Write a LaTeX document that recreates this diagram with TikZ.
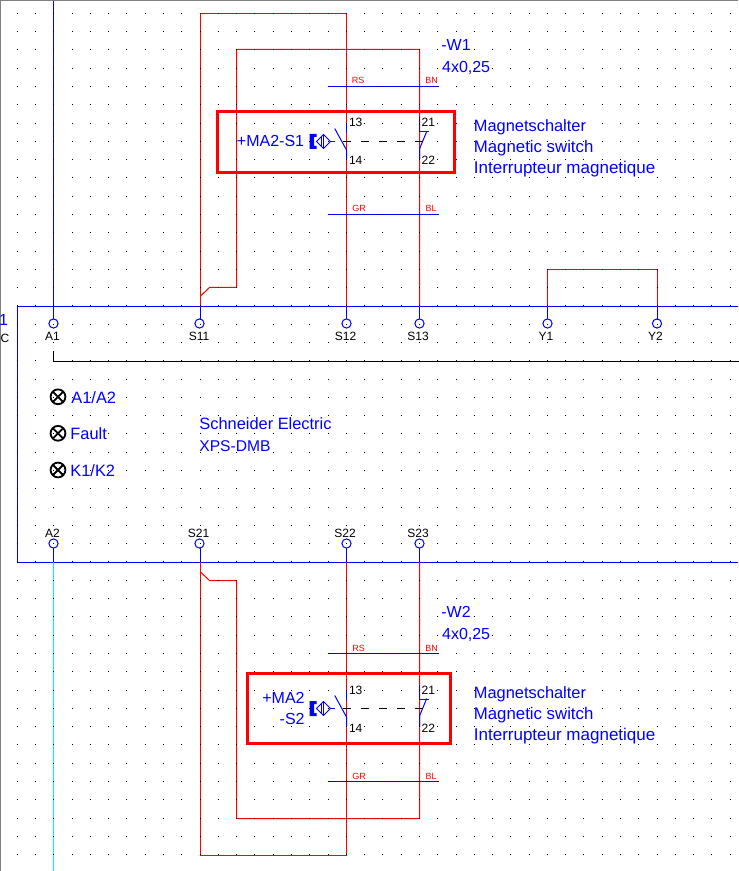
\documentclass[tikz,border=0pt]{standalone}
\usepackage{fontspec}
\setmainfont{Liberation Sans}
\definecolor{wblue}{RGB}{0,0,255}
\definecolor{wred}{RGB}{255,0,0}
\definecolor{wcyan}{RGB}{0,240,255}
\definecolor{wgray}{RGB}{128,128,128}
\tikzset{
  wire/.style={line width=0.5pt,line cap=rect},
  redwire/.style={wire,draw=wred},
  bluewire/.style={wire,draw=wblue},
  blackwire/.style={wire,draw=black},
  term/.style={circle,draw=wblue,line width=0.5pt,fill=white,minimum size=4.6pt,inner sep=0pt,outer sep=0pt},
  termlabel/.style={text=black,font=\fontsize{6}{6}\selectfont,inner sep=0pt,anchor=base},
  corelabel/.style={text=wred,font=\fontsize{4.5}{4.5}\selectfont,inner sep=0pt,anchor=base},
  pinlabel/.style={text=black,font=\fontsize{6}{6}\selectfont,inner sep=0pt,anchor=base},
  bluetext/.style={text=wblue,font=\fontsize{8}{8}\selectfont,inner sep=0pt,anchor=base west},
  bluetextr/.style={text=wblue,font=\fontsize{8}{8}\selectfont,inner sep=0pt,anchor=base east},
  highlight/.style={draw=wred,line width=1.5pt,inner sep=0pt,outer sep=0pt,anchor=north west},
  lampmark/.style={draw=black,line width=0.9pt,circle,minimum size=7.4pt,inner sep=0pt,outer sep=0pt},
}
\newcommand{\magsymbol}{%
  % left contact
  \draw[bluewire] (346.5,124)--(346.5,133);
  \draw[bluewire] (335,129)--(346.5,150)--(346.5,159);
  % right contact
  \draw[bluewire] (419.5,118)--(419.5,132)--(428.5,132);
  \draw[bluewire] (426.5,132)--(419.5,149)--(419.5,159);
  % coupling
  \draw[black,line width=0.5pt,dash pattern=on 4pt off 5pt] (343,141.5)--(423,141.5);
  % actuator
  \fill[wblue] (309.5,134)--(316.5,134)--(316.5,137)--(314,137)--(314,146)--(316.5,146)--(316.5,149)--(309.5,149)--cycle;
  \draw[bluewire] (316.5,141.5)--(323.5,134.5)--(330.5,141.5)--(323.5,148.5)--cycle;
  \draw[bluewire] (323.5,134.5)--(323.5,148.5);
  \draw[bluewire] (321.5,137)--(321.5,146);
  \draw[bluewire] (330.5,141.5)--(334.5,141.5);
}
\begin{document}
\begin{tikzpicture}[x=0.5pt,y=-0.5pt]
\useasboundingbox (0,0) rectangle (738,871);
\fill[white] (0,0) rectangle (738,871);
% terminals
\node[term] (A1) at (53.5,323.5) {};
\node[term] (S11) at (199.5,323.5) {};
\node[term] (S12) at (346.5,323.5) {};
\node[term] (S13) at (419.5,323.5) {};
\node[term] (Y1) at (547.5,323.5) {};
\node[term] (Y2) at (657,323.5) {};
\node[term] (A2) at (53.5,543.5) {};
\node[term] (S21) at (199.5,543.5) {};
\node[term] (S22) at (346.5,543.5) {};
\node[term] (S23) at (419.5,543.5) {};
% free ends and bends
\coordinate (topA) at (53.5,0);
\coordinate (botA) at (53.5,871);
\coordinate (S11b) at (200.5,306.5);
\coordinate (S12b) at (346.5,306.5);
\coordinate (S13b) at (419.5,306.5);
\coordinate (Y1b) at (547.5,306.5);
\coordinate (Y2b) at (657.5,306.5);
\coordinate (A2b) at (53.5,562.5);
\coordinate (S21b) at (200.5,562.5);
\coordinate (S22b) at (346.5,562.5);
\coordinate (S23b) at (419.5,562.5);
% enclosure
\draw[bluewire,line cap=butt] (738,306.5)--(17.5,306.5)--(17.5,562.5)--(738,562.5);
% blue stubs
\draw[bluewire] (topA)--(A1);
\draw[bluewire] (S11b)--(200.5,319);
\draw[bluewire] (S12b)--(S12);
\draw[bluewire] (S13b)--(S13);
\draw[bluewire] (Y1b)--(Y1);
\draw[bluewire] (Y2b)--(657.5,319);
\draw[bluewire] (A2)--(A2b);
\draw[bluewire] (200.5,548)--(S21b);
\draw[bluewire] (S22)--(S22b);
\draw[bluewire] (S23)--(S23b);
% red wires
\draw[redwire] (S11b)--(200.5,13.5)--(346.5,13.5)--(S12b);
\draw[redwire] (200.5,296)--(209.5,287.5)--(236.5,287.5)--(236.5,49.5)--(419.5,49.5)--(S13b);
\draw[redwire] (Y1b)--(547.5,269.5)--(657.5,269.5)--(Y2b);
\draw[redwire] (S21b)--(200.5,855.5)--(346.5,855.5)--(S22b);
\draw[redwire] (200.5,572)--(209.5,580.5)--(236.5,580.5)--(236.5,818.5)--(419.5,818.5)--(S23b);
\draw[wire,draw=wcyan] (A2b)--(botA);
% black line
\draw[blackwire] (53.5,351)--(53.5,361.5)--(738,361.5);
% core bars
\draw[bluewire] (328.5,86.5)--(438,86.5);
\draw[bluewire] (328.5,214.5)--(438,214.5);
\draw[bluewire] (328.5,653.5)--(438,653.5);
\draw[bluewire] (328.5,781.5)--(438,781.5);
% switch symbols
\magsymbol
\begin{scope}[shift={(0,567)}]\magsymbol\end{scope}
% dot grid
\foreach \i in {0,...,39}{\foreach \j in {0,...,46}{
  \pgfmathsetmacro{\px}{int(17.3+18.28*\i)}
  \pgfmathsetmacro{\py}{int(13.3+18.29*\j)}
  \fill[black] (\px,\py) rectangle ++(1,1);
}}
% highlight frames
\node[highlight,minimum width=118.35pt,minimum height=30.65pt] (frameA) at (217.4,111.7) {};
\node[highlight,minimum width=101.7pt,minimum height=34.8pt] (frameB) at (247.3,673.7) {};
% window edge
\fill[wgray] (0,0) rectangle (738,1);
\fill[wgray] (0,0) rectangle (1,871);
% terminal labels
\node[termlabel] (lA1) at (52.5,340) {A1};
\node[termlabel] (lS11) at (199,340) {S11};
\node[termlabel] (lS12) at (345.5,340) {S12};
\node[termlabel] (lS13) at (418,340) {S13};
\node[termlabel] (lY1) at (546,340) {Y1};
\node[termlabel] (lY2) at (655.5,340) {Y2};
\node[termlabel] (lA2) at (52.5,537) {A2};
\node[termlabel] (lS21) at (198.5,537) {S21};
\node[termlabel] (lS22) at (345,537) {S22};
\node[termlabel] (lS23) at (418,537) {S23};
% reference at the left edge
\node[text=wblue,font=\fontsize{8}{8}\selectfont,inner sep=0pt,anchor=base east] (ref1) at (8.5,325) {1};
\node[termlabel,anchor=base east] (refC) at (9.7,342) {C};
% core labels
\node[corelabel] (c1) at (358,84) {RS};
\node[corelabel] (c2) at (431.5,84) {BN};
\node[corelabel] (c3) at (359,212) {GR};
\node[corelabel] (c4) at (431,212) {BL};
\node[corelabel] (c5) at (358.5,651) {RS};
\node[corelabel] (c6) at (431.5,651) {BN};
\node[corelabel] (c7) at (359,779) {GR};
\node[corelabel] (c8) at (431,779) {BL};
% contact numbers
\node[pinlabel] (p13a) at (355.7,127) {13};
\node[pinlabel] (p14a) at (355.7,165) {14};
\node[pinlabel] (p21a) at (428.3,127) {21};
\node[pinlabel] (p22a) at (428.3,165) {22};
\node[pinlabel] (p13b) at (355.7,694) {13};
\node[pinlabel] (p14b) at (355.7,732) {14};
\node[pinlabel] (p21b) at (428.3,694) {21};
\node[pinlabel] (p22b) at (428.3,732) {22};
% blue text
\node[bluetext] (w1) at (441,50.5) {-W1};
\node[bluetext] (w1b) at (441.7,72.5) {4x0,25};
\node[bluetext] (w2) at (441,617) {-W2};
\node[bluetext] (w2b) at (441.7,639.5) {4x0,25};
\node[bluetextr] (ms1) at (304.5,147) {+MA2-S1};
\node[bluetextr] (ms2a) at (305,703.5) {+MA2};
\node[bluetextr] (ms2b) at (305,724.5) {-S2};
\node[bluetext,font=\fontsize{8.2}{8}\selectfont] (t1) at (473.5,131.5) {Magnetschalter};
\node[bluetext,font=\fontsize{8.4}{8}\selectfont] (t2) at (473.5,152.5) {Magnetic switch};
\node[bluetext,font=\fontsize{8.5}{8}\selectfont] (t3) at (473.5,173.5) {Interrupteur magnetique};
\node[bluetext,font=\fontsize{8.2}{8}\selectfont] (t4) at (473.5,698.5) {Magnetschalter};
\node[bluetext,font=\fontsize{8.4}{8}\selectfont] (t5) at (473.5,719.5) {Magnetic switch};
\node[bluetext,font=\fontsize{8.5}{8}\selectfont] (t6) at (473.5,740.5) {Interrupteur magnetique};
\node[bluetext,font=\fontsize{8.2}{8}\selectfont] (se1) at (199,429.5) {Schneider Electric};
\node[bluetext,font=\fontsize{7.8}{8}\selectfont] (se2) at (199,451.5) {XPS-DMB};
% lamps
\foreach \n/\y in {L1/396.8,L2/433.3,L3/470}{
  \node[lampmark] (\n) at (58,\y) {};
  \draw[black,line width=0.9pt] (\n.north west)--(\n.south east) (\n.north east)--(\n.south west);
}
\node[bluetext,font=\fontsize{8.2}{8}\selectfont] (l1) at (71,403.5) {A1/A2};
\node[bluetext,font=\fontsize{8.2}{8}\selectfont] (l2) at (70,439.5) {Fault};
\node[bluetext,font=\fontsize{8.2}{8}\selectfont] (l3) at (70,476.5) {K1/K2};
\end{tikzpicture}
\end{document}
